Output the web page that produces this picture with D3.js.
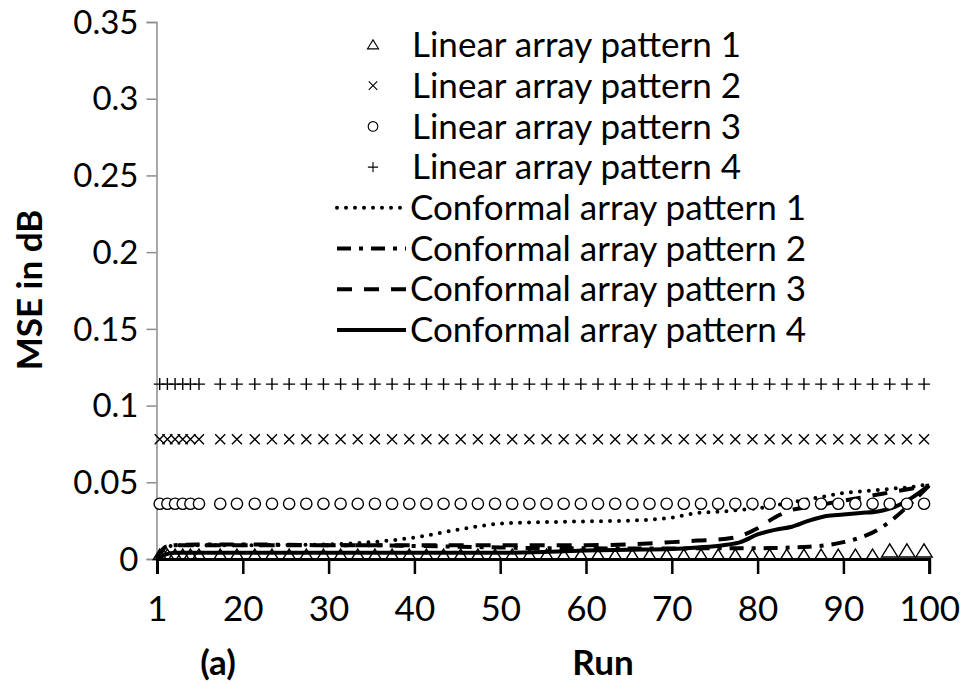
<!DOCTYPE html>
<html>
<head>
<meta charset="utf-8">
<script src="https://d3js.org/d3.v7.min.js"></script>
<style>
  body { margin: 0; background: #fff; }
  svg { display: block; font-family: Lato, 'Open Sans', sans-serif; }
</style>
</head>
<body>
<svg id="chart" width="966" height="684"></svg>
<script>
// x tick labels (the axis is not uniform: 1 -> 20 takes the same room as 20 -> 30)
var xTicks = [1, 20, 30, 40, 50, 60, 70, 80, 90, 100];
var yTicks = [0, 0.05, 0.1, 0.15, 0.2, 0.25, 0.3, 0.35];

// runs where the linear-array markers sit
var markerRuns = [1.6, 3.3, 5, 6.7, 8.4, 10.3, 15, 18.7,
  21.4, 23.4, 25.4, 27.4, 29.4, 31.4, 33.4, 35.4, 37.4, 39.4,
  41.4, 43.4, 45.4, 47.4, 49.4, 51.4, 53.4, 55.4, 57.4, 59.4,
  61.4, 63.4, 65.4, 67.4, 69.4, 71.4, 73.4, 75.4, 77.4, 79.4,
  81.4, 83.4, 85.4, 87.4, 89.4, 91.4, 93.4, 95.4, 97.4, 99.4];

// MSE levels of the linear array patterns (flat over all runs)
var linearNames = ['Linear array pattern 1', 'Linear array pattern 2', 'Linear array pattern 3', 'Linear array pattern 4'];
var linearLevels = [0.0025, 0.078, 0.036, 0.114];
// pattern 1 lifts a little over the last three runs
var linear1TailRuns = [95.4, 97.4, 99.4];
var linear1TailLevel = 0.005;

// conformal array patterns
var confNames = ['Conformal array pattern 1', 'Conformal array pattern 2', 'Conformal array pattern 3', 'Conformal array pattern 4'];
var lineRuns = [1, 3, 5, 10, 20, 30, 35, 40, 45, 50, 55, 60, 65, 70, 73, 76, 78, 80, 82, 84, 86, 88, 90, 92, 94, 96, 98, 100];
var conf1 = [0.001, 0.007, 0.009, 0.009, 0.009, 0.0095, 0.011, 0.014, 0.019, 0.023, 0.024, 0.0245, 0.025, 0.027, 0.030, 0.031, 0.032, 0.033, 0.035, 0.037, 0.039, 0.041, 0.043, 0.044, 0.045, 0.046, 0.047, 0.049];
var conf2 = [0.001, 0.008, 0.009, 0.0095, 0.0095, 0.009, 0.009, 0.0085, 0.008, 0.0075, 0.007, 0.007, 0.0068, 0.0068, 0.007, 0.007, 0.007, 0.007, 0.0072, 0.0075, 0.008, 0.009, 0.011, 0.014, 0.019, 0.027, 0.037, 0.048];
var conf3 = [0.001, 0.008, 0.009, 0.009, 0.009, 0.009, 0.009, 0.009, 0.009, 0.009, 0.009, 0.009, 0.0095, 0.011, 0.012, 0.013, 0.015, 0.020, 0.027, 0.032, 0.034, 0.036, 0.038, 0.040, 0.042, 0.044, 0.046, 0.048];
var conf4 = [0, 0.003, 0.004, 0.004, 0.004, 0.004, 0.004, 0.004, 0.004, 0.004, 0.0045, 0.0055, 0.006, 0.0065, 0.0075, 0.009, 0.011, 0.016, 0.019, 0.021, 0.025, 0.028, 0.029, 0.030, 0.031, 0.034, 0.040, 0.048];

var svg = d3.select('#chart');
svg.append('rect').attr('width', 966).attr('height', 684).attr('fill', '#fff');

var x0 = 157, xStep = 85.8;
var x = d3.scaleLinear()
  .domain(xTicks)
  .range(xTicks.map(function(d, i) { return x0 + i * xStep; }));
var y = d3.scaleLinear().domain([0, 0.35]).range([559, 22]);

// y axis (grey)
var yAxis = svg.append('g')
  .attr('transform', 'translate(156.5,0)')
  .call(d3.axisLeft(y).tickValues(yTicks).tickSize(10).tickPadding(8)
    .tickFormat(function(d) { return d === 0 ? '0' : String(+d.toFixed(2)); }));
yAxis.select('.domain').attr('stroke', '#8c8c8c').attr('stroke-width', 1.5);
yAxis.selectAll('.tick line').attr('stroke', '#8c8c8c').attr('stroke-width', 1.5);
yAxis.selectAll('.tick text').attr('font-size', 33).attr('fill', '#000')
  .attr('dy', '0.34em')
  .attr('font-family', 'Lato, sans-serif');

// conformal lines
var line = d3.line()
  .x(function(d) { return x(d[0]); })
  .y(function(d) { return y(d[1]); })
  .curve(d3.curveMonotoneX);

var confSeries = [conf1, conf2, conf3, conf4];
var dashes = ['0 9', '14 8 4 8', '15 12', null];
var caps = ['round', 'butt', 'butt', 'butt'];

confSeries.forEach(function(vals, k) {
  var pts = lineRuns.map(function(r, i) { return [r, vals[i]]; });
  svg.append('path')
    .datum(pts)
    .attr('d', line)
    .attr('fill', 'none')
    .attr('stroke', '#000')
    .attr('stroke-width', 4)
    .attr('stroke-linecap', caps[k])
    .attr('stroke-linejoin', 'round')
    .attr('stroke-dasharray', dashes[k]);
});

// marker shapes
function markerPath(k, s) {
  s = s || 1;
  if (k === 0) return 'M0,' + (-6 * s) + 'L' + (6.5 * s) + ',' + (4.5 * s) + 'L' + (-6.5 * s) + ',' + (4.5 * s) + 'Z';
  if (k === 1) return 'M-5,-5L5,5M-5,5L5,-5';
  if (k === 2) return d3.symbol().type(d3.symbolCircle).size(100)();
  return 'M-6,0L6,0M0,-6L0,6';
}

linearLevels.forEach(function(lv, k) {
  var pts = markerRuns.map(function(r) {
    if (k === 0 && linear1TailRuns.indexOf(r) >= 0) return [r, linear1TailLevel, 1.25];
    return [r, lv, 1];
  });
  svg.append('g').selectAll('path')
    .data(pts)
    .enter()
    .append('path')
    .attr('transform', function(d) { return 'translate(' + x(d[0]) + ',' + y(d[1]) + ')'; })
    .attr('d', function(d) { return markerPath(k, d[2]); })
    .attr('fill', k === 2 ? '#fff' : 'none')
    .attr('stroke', '#000')
    .attr('stroke-width', 1.4);
});

// x axis (black, heavy)
var xAxis = svg.append('g')
  .attr('transform', 'translate(0,559)')
  .call(d3.axisBottom(x).tickValues(xTicks).tickSize(15).tickPadding(22)
    .tickFormat(function(d) { return String(d); }));
xAxis.select('.domain').attr('stroke', '#000').attr('stroke-width', 3);
xAxis.selectAll('.tick line').attr('stroke', '#000').attr('stroke-width', 2.5);
xAxis.selectAll('.tick text').attr('font-size', 35).attr('fill', '#000')
  .attr('font-family', 'Lato, sans-serif');

// axis titles
svg.append('text')
  .attr('transform', 'translate(42,290) rotate(-90)')
  .attr('text-anchor', 'middle')
  .attr('font-size', 35).attr('font-weight', 'bold')
  .text('MSE in dB');
svg.append('text')
  .attr('x', 603).attr('y', 675)
  .attr('text-anchor', 'middle')
  .attr('font-size', 35).attr('font-weight', 'bold')
  .text('Run');
svg.append('text')
  .attr('x', 218).attr('y', 675)
  .attr('text-anchor', 'middle')
  .attr('font-size', 35).attr('font-weight', 'bold')
  .text('(a)');

// legend
var legY0 = 45, legStep = 40.7;
var legend = svg.append('g');
linearNames.forEach(function(name, k) {
  var ly = legY0 + k * legStep;
  legend.append('path')
    .attr('transform', 'translate(373,' + ly + ') scale(0.85)')
    .attr('d', markerPath(k))
    .attr('fill', 'none')
    .attr('stroke', '#000')
    .attr('stroke-width', 1.3);
  legend.append('text')
    .attr('x', 412).attr('y', ly)
    .attr('dy', '0.35em')
    .attr('font-size', 35)
    .text(name);
});
confNames.forEach(function(name, k) {
  var ly = legY0 + (k + 4) * legStep;
  legend.append('line')
    .attr('x1', 337).attr('x2', 406)
    .attr('y1', ly).attr('y2', ly)
    .attr('stroke', '#000')
    .attr('stroke-width', 4)
    .attr('stroke-linecap', caps[k])
    .attr('stroke-dasharray', dashes[k]);
  legend.append('text')
    .attr('x', 410).attr('y', ly)
    .attr('dy', '0.35em')
    .attr('font-size', 35)
    .text(name);
});
</script>
</body>
</html>
